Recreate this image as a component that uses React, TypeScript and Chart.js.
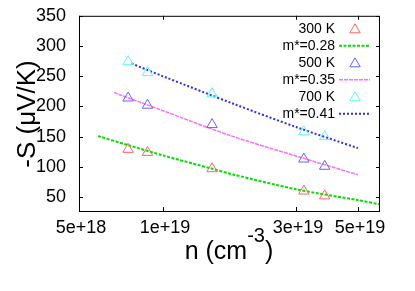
import React, { useEffect, useRef } from "react";
import { Chart, registerables } from "chart.js";

Chart.register(...registerables);

// Measured points (carrier concentration, cm^-3) and -S (µV/K)
const nMeasured = [7.5e18, 8.8e18, 1.5e19, 3.2e19, 3.8e19];
const s300K = [129, 124, 97, 60, 52];
const s500K = [214, 202, 170, 113, 101];
const s700K = [274, 256, 221, 158, 150];

// Model curves
const nFit028 = [5.86e18, 7.5e18, 1e19, 1.5e19, 1.8e19, 3e19, 5e19, 6e19];
const sFit028 = [151, 136, 119, 97, 87, 63, 45, 38];
const nFit035 = [6.68e18, 1e19, 1.74e19, 3e19, 5e19];
const sFit035 = [223, 193, 152, 118, 87];
const nFit041 = [7.72e18, 1e19, 1.8e19, 3e19, 5e19];
const sFit041 = [271, 250, 204, 166, 131];

const seriesLabels = ["300 K", "m*=0.28", "500 K", "m*=0.35", "700 K", "m*=0.41"];

const xTicks = [5e18, 1e19, 3e19, 5e19];
const yTicks = [50, 100, 150, 200, 250, 300, 350];

const xTitleMain = "n (cm";
const xTitleSup = "-3";
const xTitleEnd = ")";
const yTitle = "-S (\u03bcV/K)";

const FONT = '"Liberation Sans", Arial, Helvetica, sans-serif';

const toXY = (xs: number[], ys: number[]) => xs.map((x, i) => ({ x, y: ys[i] }));

function drawTriangle(ctx: CanvasRenderingContext2D, x: number, y: number, r: number) {
  const s = Math.sin((2 * Math.PI) / 3) * r;
  ctx.beginPath();
  ctx.moveTo(x, y - r);
  ctx.lineTo(x + s, y + r / 2);
  ctx.lineTo(x - s, y + r / 2);
  ctx.closePath();
  ctx.stroke();
}

export default function App() {
  const ref = useRef<HTMLCanvasElement>(null);

  useEffect(() => {
    const canvas = ref.current;
    if (!canvas) return;

    const pointRadius = 6;

    const decorPlugin = {
      id: "decor",
      afterDraw(chart: any) {
        const { ctx, chartArea: a, scales } = chart;
        ctx.save();
        // frame
        ctx.strokeStyle = "#000";
        ctx.lineWidth = 1;
        ctx.setLineDash([]);
        ctx.strokeRect(a.left + 0.5, a.top + 0.5, a.right - a.left - 1, a.bottom - a.top);
        // inward ticks
        const tl = 4;
        ctx.beginPath();
        xTicks.forEach((v) => {
          const px = Math.round(scales.x.getPixelForValue(v)) + 0.5;
          ctx.moveTo(px, a.bottom);
          ctx.lineTo(px, a.bottom - tl);
          ctx.moveTo(px, a.top);
          ctx.lineTo(px, a.top + tl);
        });
        yTicks.forEach((v) => {
          const py = Math.round(scales.y.getPixelForValue(v)) + 0.5;
          ctx.moveTo(a.left, py);
          ctx.lineTo(a.left + tl, py);
          ctx.moveTo(a.right, py);
          ctx.lineTo(a.right - tl, py);
        });
        ctx.stroke();

        // legend
        ctx.font = `14px ${FONT}`;
        ctx.textAlign = "right";
        ctx.textBaseline = "middle";
        chart.data.datasets.forEach((ds: any, i: number) => {
          const y = a.top + 13 + i * 17;
          ctx.fillStyle = "#000";
          ctx.fillText(ds.label, a.right - 45, y);
          ctx.strokeStyle = ds.borderColor;
          ctx.lineWidth = ds.borderWidth;
          if (ds.showLine) {
            ctx.setLineDash(ds.borderDash || []);
            ctx.beginPath();
            ctx.moveTo(a.right - 41, y);
            ctx.lineTo(a.right - 10, y);
            ctx.stroke();
            ctx.setLineDash([]);
          } else {
            drawTriangle(ctx, a.right - 25, y + 1, pointRadius);
          }
        });

        // axis titles
        ctx.fillStyle = "#000";
        ctx.textBaseline = "alphabetic";
        ctx.textAlign = "left";
        const mainFont = `25px ${FONT}`;
        const supFont = `20px ${FONT}`;
        ctx.font = mainFont;
        const w1 = ctx.measureText(xTitleMain).width;
        const w3 = ctx.measureText(xTitleEnd).width;
        ctx.font = supFont;
        const w2 = ctx.measureText(xTitleSup).width;
        const total = w1 + w2 + w3;
        let x0 = 229 - total / 2;
        const base = 259;
        ctx.font = mainFont;
        ctx.fillText(xTitleMain, x0, base);
        ctx.font = supFont;
        ctx.fillText(xTitleSup, x0 + w1, base - 17);
        ctx.font = mainFont;
        ctx.fillText(xTitleEnd, x0 + w1 + w2, base);

        ctx.translate(35, 114);
        ctx.rotate(-Math.PI / 2);
        ctx.font = `26px ${FONT}`;
        ctx.textAlign = "center";
        ctx.fillText(yTitle, 0, 0);
        ctx.restore();
      },
    };

    const pointDs = (label: string, ys: number[], color: string) => ({
      label,
      data: toXY(nMeasured, ys),
      showLine: false,
      pointStyle: "triangle",
      pointRadius,
      pointBorderWidth: 1,
      borderWidth: 1,
      borderColor: color,
      pointBorderColor: color,
      backgroundColor: "rgba(0,0,0,0)",
      pointBackgroundColor: "rgba(0,0,0,0)",
    });
    const lineDs = (label: string, xs: number[], ys: number[], color: string, width: number, dash: number[]) => ({
      label,
      data: toXY(xs, ys),
      showLine: true,
      pointRadius: 0,
      borderColor: color,
      borderWidth: width,
      borderDash: dash,
      backgroundColor: color,
      tension: 0.3,
      fill: false,
    });

    const chart = new Chart(canvas, {
      type: "scatter",
      data: {
        datasets: [
          pointDs(seriesLabels[0], s300K, "#ff6464"),
          lineDs(seriesLabels[1], nFit028, sFit028, "#00e000", 2, [3, 1.5]),
          pointDs(seriesLabels[2], s500K, "#6464ff"),
          lineDs(seriesLabels[3], nFit035, sFit035, "#ff6cff", 1.5, [4, 1]),
          pointDs(seriesLabels[4], s700K, "#5cf6f6"),
          lineDs(seriesLabels[5], nFit041, sFit041, "#2c2cff", 2, [2, 2]),
        ] as any,
      },
      options: {
        animation: false,
        responsive: true,
        maintainAspectRatio: false,
        devicePixelRatio: 1,
        layout: { padding: { top: 9, right: 35, left: 0, bottom: 0 } },
        plugins: { legend: { display: false }, tooltip: { enabled: false } },
        scales: {
          x: {
            type: "logarithmic",
            min: 5e18,
            max: 6e19,
            grid: { display: false },
            border: { display: false },
            afterBuildTicks: (s: any) => {
              s.ticks = xTicks.map((v) => ({ value: v }));
            },
            afterFit: (s: any) => {
              s.height = 80;
            },
            ticks: {
              autoSkip: false,
              maxRotation: 0,
              padding: -2,
              labelOffset: 2,
              color: "#000",
              font: { family: FONT, size: 18 },
              callback: (v: any) => Number(v).toExponential(0),
            },
          },
          y: {
            type: "linear",
            min: 27,
            max: 350,
            grid: { display: false },
            border: { display: false },
            afterBuildTicks: (s: any) => {
              s.ticks = yTicks.map((v) => ({ value: v }));
            },
            afterFit: (s: any) => {
              s.width = 79;
            },
            ticks: {
              padding: 5,
              color: "#000",
              font: { family: FONT, size: 18 },
            },
          },
        },
      } as any,
      plugins: [decorPlugin],
    });

    return () => chart.destroy();
  }, []);

  return (
    <div style={{ position: "fixed", left: 0, top: 0, width: 415, height: 291, background: "#fff" }}>
      <canvas ref={ref} />
    </div>
  );
}
